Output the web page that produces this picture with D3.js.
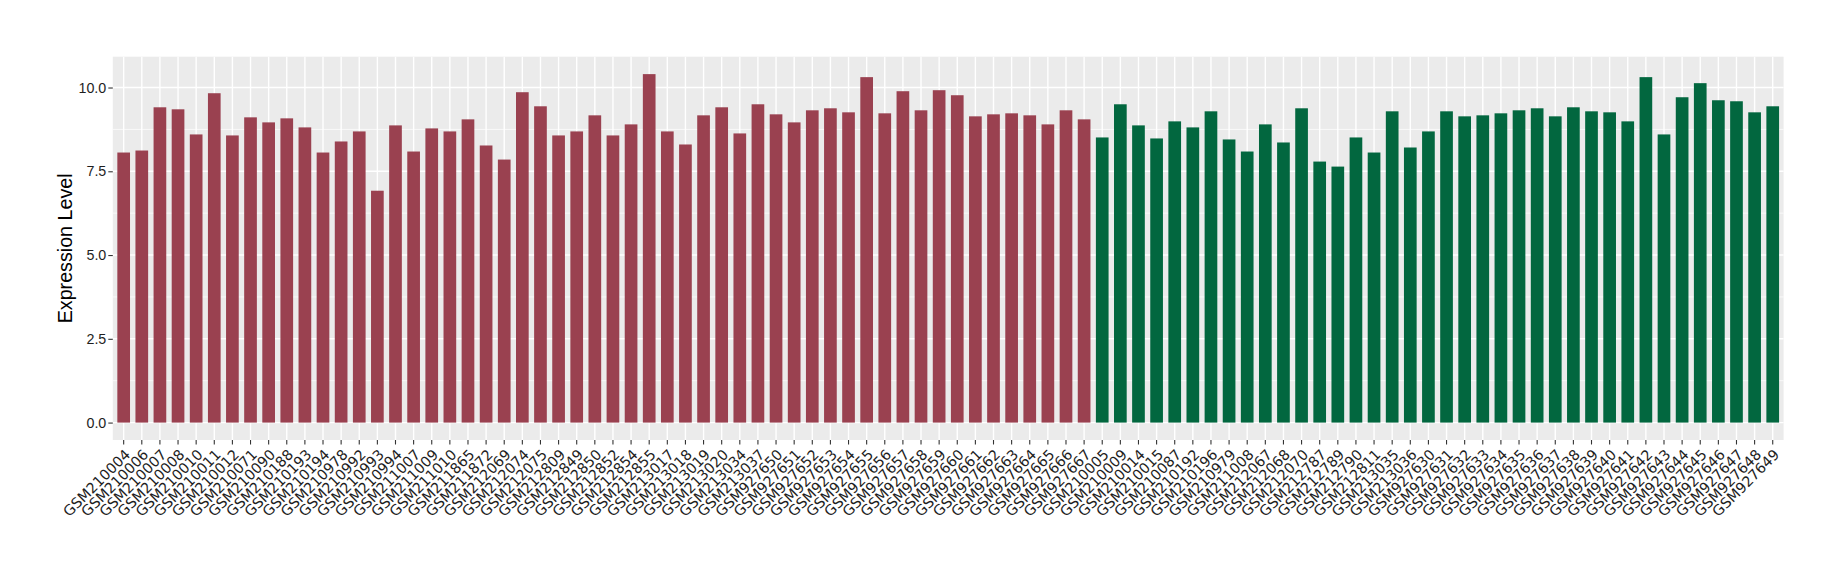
<!DOCTYPE html>
<html>
<head>
<meta charset="utf-8">
<script src="https://cdn.jsdelivr.net/npm/d3@7/dist/d3.min.js"></script>
<style>
  html, body { margin: 0; padding: 0; background: #ffffff; }
  svg { display: block; }
</style>
</head>
<body>
<svg id="chart" width="1840" height="580"></svg>
<script>
// ---- Data ----
const samplesGroup1 = [
  "GSM210004","GSM210006","GSM210007","GSM210008","GSM210010","GSM210011","GSM210012","GSM210071",
  "GSM210090","GSM210188","GSM210193","GSM210194","GSM210978","GSM210992","GSM210993","GSM210994",
  "GSM211007","GSM211009","GSM211010","GSM211865","GSM211872","GSM212069","GSM212074","GSM212075",
  "GSM212809","GSM212849","GSM212850","GSM212852","GSM212854","GSM212855","GSM213017","GSM213018",
  "GSM213019","GSM213020","GSM213034","GSM213037","GSM927650","GSM927651","GSM927652","GSM927653",
  "GSM927654","GSM927655","GSM927656","GSM927657","GSM927658","GSM927659","GSM927660","GSM927661",
  "GSM927662","GSM927663","GSM927664","GSM927665","GSM927666","GSM927667"
];
const valuesGroup1 = [
  8.06, 8.12, 9.41, 9.35, 8.60, 9.83, 8.57, 9.11,
  8.96, 9.08, 8.81, 8.06, 8.39, 8.69, 6.92, 8.87,
  8.09, 8.78, 8.69, 9.05, 8.27, 7.85, 9.86, 9.44,
  8.57, 8.69, 9.17, 8.57, 8.90, 10.40, 8.69, 8.30,
  9.17, 9.41, 8.63, 9.50, 9.20, 8.96, 9.32, 9.38,
  9.26, 10.31, 9.23, 9.89, 9.32, 9.92, 9.77, 9.14,
  9.20, 9.23, 9.17, 8.90, 9.32, 9.05
];
const samplesGroup2 = [
  "GSM210005","GSM210009","GSM210014","GSM210015","GSM210087","GSM210192","GSM210196","GSM210979",
  "GSM211008","GSM212067","GSM212068","GSM212070","GSM212787","GSM212789","GSM212790","GSM212811",
  "GSM213035","GSM213036","GSM927630","GSM927631","GSM927632","GSM927633","GSM927634","GSM927635",
  "GSM927636","GSM927637","GSM927638","GSM927639","GSM927640","GSM927641","GSM927642","GSM927643",
  "GSM927644","GSM927645","GSM927646","GSM927647","GSM927648","GSM927649"
];
const valuesGroup2 = [
  8.51, 9.50, 8.87, 8.48, 8.99, 8.81, 9.29, 8.45,
  8.09, 8.90, 8.36, 9.38, 7.79, 7.64, 8.51, 8.06,
  9.29, 8.21, 8.69, 9.29, 9.14, 9.17, 9.23, 9.32,
  9.38, 9.14, 9.41, 9.29, 9.26, 8.99, 10.31, 8.60,
  9.71, 10.13, 9.62, 9.59, 9.26, 9.44
];
const yTicks = [0, 2.5, 5, 7.5, 10];
const yTickLabels = ["0.0", "2.5", "5.0", "7.5", "10.0"];
const yMinorTicks = [1.25, 3.75, 6.25, 8.75];
const yTitle = "Expression Level";
const groupColors = ["#9A4150", "#02673F"];

// ---- Build rows ----
const rows = samplesGroup1.map((s, i) => ({ sample: s, value: valuesGroup1[i], group: 0 }))
  .concat(samplesGroup2.map((s, i) => ({ sample: s, value: valuesGroup2[i], group: 1 })));

// ---- Layout ----
const panel = { left: 112.8, right: 1783.6, top: 56.7, bottom: 440 };
const svg = d3.select("#chart");

const x = d3.scaleBand()
  .domain(rows.map(d => d.sample))
  .range([panel.left, panel.right])
  .paddingInner(0.3)
  .paddingOuter(0.25)
  .align(0.5);

const maxV = d3.max(rows, d => d.value);
const pad = maxV * 0.05;
const y = d3.scaleLinear()
  .domain([-pad, maxV + pad])
  .range([panel.bottom, panel.top]);

// Panel background
svg.append("rect")
  .attr("x", panel.left).attr("y", panel.top)
  .attr("width", panel.right - panel.left)
  .attr("height", panel.bottom - panel.top)
  .attr("fill", "#EBEBEB");

// Minor grid
svg.append("g").selectAll("line").data(yMinorTicks).join("line")
  .attr("x1", panel.left).attr("x2", panel.right)
  .attr("y1", d => y(d)).attr("y2", d => y(d))
  .attr("stroke", "#ffffff").attr("stroke-width", 0.7);

// Major grid
svg.append("g").selectAll("line").data(yTicks).join("line")
  .attr("x1", panel.left).attr("x2", panel.right)
  .attr("y1", d => y(d)).attr("y2", d => y(d))
  .attr("stroke", "#ffffff").attr("stroke-width", 1.4);

svg.append("g").selectAll("line").data(rows).join("line")
  .attr("x1", d => x(d.sample) + x.bandwidth() / 2)
  .attr("x2", d => x(d.sample) + x.bandwidth() / 2)
  .attr("y1", panel.top).attr("y2", panel.bottom)
  .attr("stroke", "#ffffff").attr("stroke-width", 1.4);

// Bars
svg.append("g").selectAll("rect").data(rows).join("rect")
  .attr("x", d => x(d.sample))
  .attr("width", x.bandwidth())
  .attr("y", d => y(d.value))
  .attr("height", d => y(0) - y(d.value))
  .attr("fill", d => groupColors[d.group]);

// Y axis
const yAxis = d3.axisLeft(y)
  .tickValues(yTicks)
  .tickFormat((d, i) => yTickLabels[i])
  .tickSize(4.5)
  .tickPadding(2);
const gy = svg.append("g")
  .attr("transform", `translate(${panel.left},0)`)
  .call(yAxis);
gy.select(".domain").remove();
gy.selectAll(".tick line").attr("stroke", "#333333").attr("stroke-width", 1.1);
gy.selectAll(".tick text")
  .attr("fill", "#1e1e1e")
  .style("font-family", "'Liberation Sans', Arial, sans-serif")
  .style("font-size", "14.3px");

// X axis
const xAxis = d3.axisBottom(x).tickSize(4.5).tickPadding(0);
const gx = svg.append("g")
  .attr("transform", `translate(0,${panel.bottom})`)
  .call(xAxis);
gx.select(".domain").remove();
gx.selectAll(".tick line").attr("stroke", "#333333").attr("stroke-width", 1.1);
gx.selectAll(".tick text")
  .attr("fill", "#1e1e1e")
  .attr("text-anchor", "end")
  .attr("y", 0)
  .attr("dy", 0)
  .attr("transform", "translate(0,8) rotate(-45)")
  .attr("dy", "0.74em")
  .style("font-family", "'DejaVu Sans', sans-serif")
  .style("font-size", "14.4px");

// Y title
svg.append("text")
  .attr("transform", `translate(72,${(panel.top + panel.bottom) / 2}) rotate(-90)`)
  .attr("text-anchor", "middle")
  .attr("fill", "#000000")
  .style("font-family", "'Liberation Sans', Arial, sans-serif")
  .style("font-size", "19.7px")
  .text(yTitle);
</script>
</body>
</html>
